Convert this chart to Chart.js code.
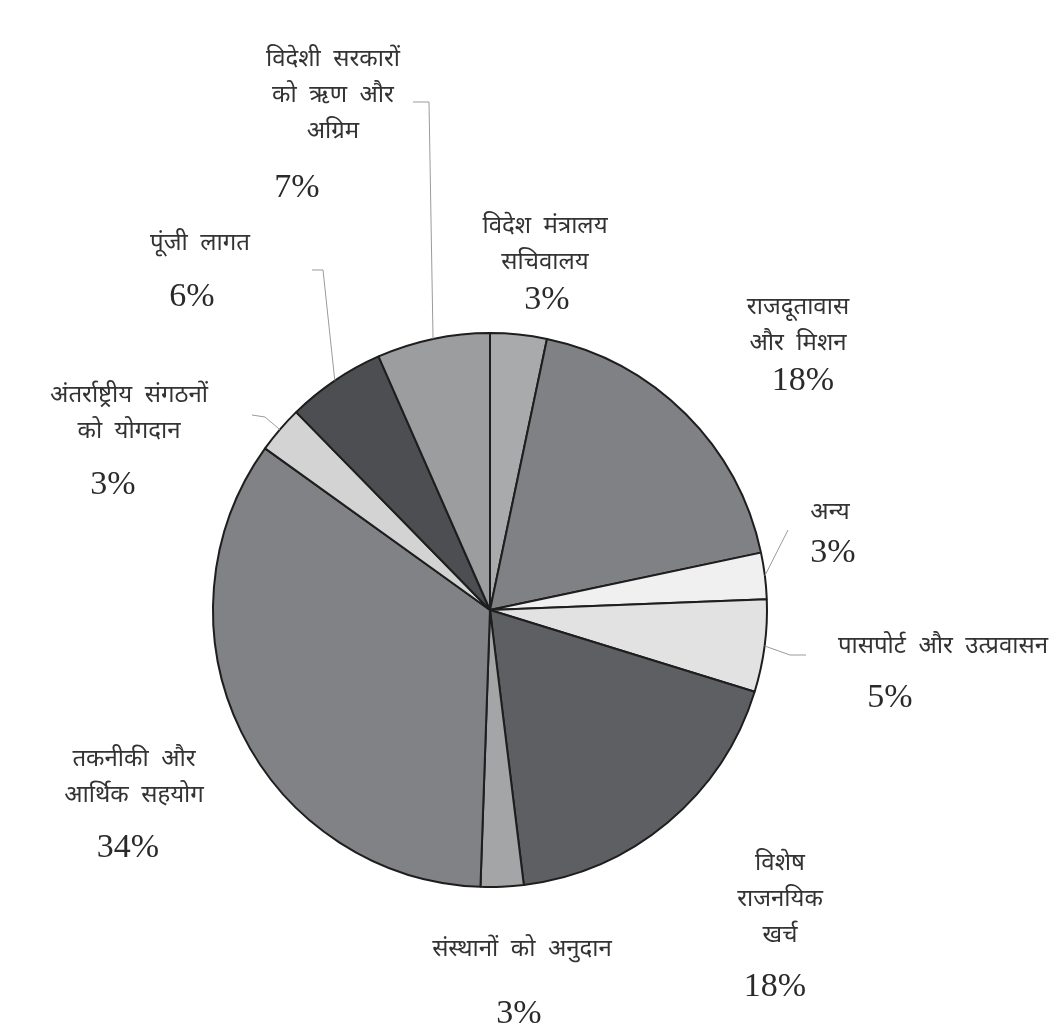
<!DOCTYPE html>
<html>
<head>
<meta charset="utf-8">
<script src="https://cdn.jsdelivr.net/npm/chart.js@4.4.0/dist/chart.umd.min.js"></script>
<style>
  html, body { margin: 0; padding: 0; background: #fff; }
  #wrap { width: 1060px; height: 1030px; }
</style>
</head>
<body>
<div id="wrap"><canvas id="myChart" width="1060" height="1030"></canvas></div>
<script>
// Datos (en sentido horario desde arriba)
var categories = [
  'विदेश मंत्रालय सचिवालय',
  'राजदूतावास और मिशन',
  'अन्य',
  'पासपोर्ट और उत्प्रवासन',
  'विशेष राजनयिक खर्च',
  'संस्थानों को अनुदान',
  'तकनीकी और आर्थिक सहयोग',
  'अंतर्राष्ट्रीय संगठनों को योगदान',
  'पूंजी लागत',
  'विदेशी सरकारों को ऋण और अग्रिम'
];
var shares = [3.3, 18.4, 2.7, 5.4, 18.3, 2.5, 34.4, 2.75, 5.75, 6.6];
var sliceColors = ['#a9aaac', '#808184', '#f0f0f0', '#e2e2e2', '#5e5f63',
                   '#a4a5a7', '#818285', '#d3d3d3', '#4d4e51', '#9c9d9f'];

// Posición de etiquetas (palabras por línea, centro del texto, porcentaje, codo de la guía)
var labelLayout = [
  { words: [2, 1], x: 545, y: 229, px: 547, py: 300 },
  { words: [1, 2], x: 798, y: 310, px: 803, py: 381 },
  { words: [1], x: 830, y: 515, px: 833, py: 553, leader: [[788, 530]] },
  { words: [3], x: 943, y: 649, px: 890, py: 698, leader: [[790, 655], [806, 655]] },
  { words: [1, 1, 1], x: 780, y: 866, px: 775, py: 987 },
  { words: [3], x: 522, y: 952, px: 519, py: 1014 },
  { words: [2, 2], x: 134, y: 762, px: 128, py: 848 },
  { words: [2, 2], x: 129, y: 398, px: 113, py: 485, leader: [[265, 417], [252, 415]] },
  { words: [2], x: 200, y: 246, px: 192, py: 297, leader: [[323, 270], [312, 270]] },
  { words: [2, 3, 1], x: 333, y: 62, px: 297, py: 188, leader: [[429, 102], [413, 102]] }
];

var hindiFont = "24px 'Noto Sans Devanagari', 'Lohit Devanagari', 'Noto Sans', sans-serif";
var pctFont = "34px 'Liberation Serif', 'Times New Roman', serif";

var labelPlugin = {
  id: 'pieLabels',
  afterDraw: function (chart) {
    var ctx = chart.ctx;
    var arcs = chart.getDatasetMeta(0).data;
    ctx.save();
    arcs.forEach(function (arc, i) {
      var p = arc.getProps(['x', 'y', 'startAngle', 'endAngle', 'outerRadius'], true);
      var lay = labelLayout[i];
      if (lay.leader) {
        var mid = (p.startAngle + p.endAngle) / 2;
        ctx.beginPath();
        ctx.strokeStyle = '#9a9a9a';
        ctx.lineWidth = 1;
        ctx.moveTo(p.x + Math.cos(mid) * p.outerRadius, p.y + Math.sin(mid) * p.outerRadius);
        lay.leader.forEach(function (pt) { ctx.lineTo(pt[0], pt[1]); });
        ctx.stroke();
      }
      // texto
      var words = categories[i].split(' ');
      var k = 0;
      ctx.font = hindiFont;
      ctx.fillStyle = '#333';
      ctx.textAlign = 'center';
      ctx.textBaseline = 'middle';
      lay.words.forEach(function (n, li) {
        var line = words.slice(k, k + n).join('  ');
        k += n;
        ctx.fillText(line, lay.x, lay.y + li * 36);
      });
      ctx.font = pctFont;
      ctx.fillStyle = '#2a2a2a';
      ctx.fillText(Math.round(shares[i]) + '%', lay.px, lay.py);
    });
    ctx.restore();
  }
};

var ctx = document.getElementById('myChart').getContext('2d');
var myChart = new Chart(ctx, {
  type: 'pie',
  data: {
    labels: categories,
    datasets: [{
      data: shares,
      backgroundColor: sliceColors,
      borderColor: '#1e1e1e',
      borderWidth: 2
    }]
  },
  options: {
    responsive: false,
    animation: false,
    radius: 277,
    layout: { padding: { left: 213, right: 293, top: 333, bottom: 143 } },
    plugins: {
      legend: { display: false },
      tooltip: { enabled: false }
    }
  },
  plugins: [labelPlugin]
});
</script>
</body>
</html>
